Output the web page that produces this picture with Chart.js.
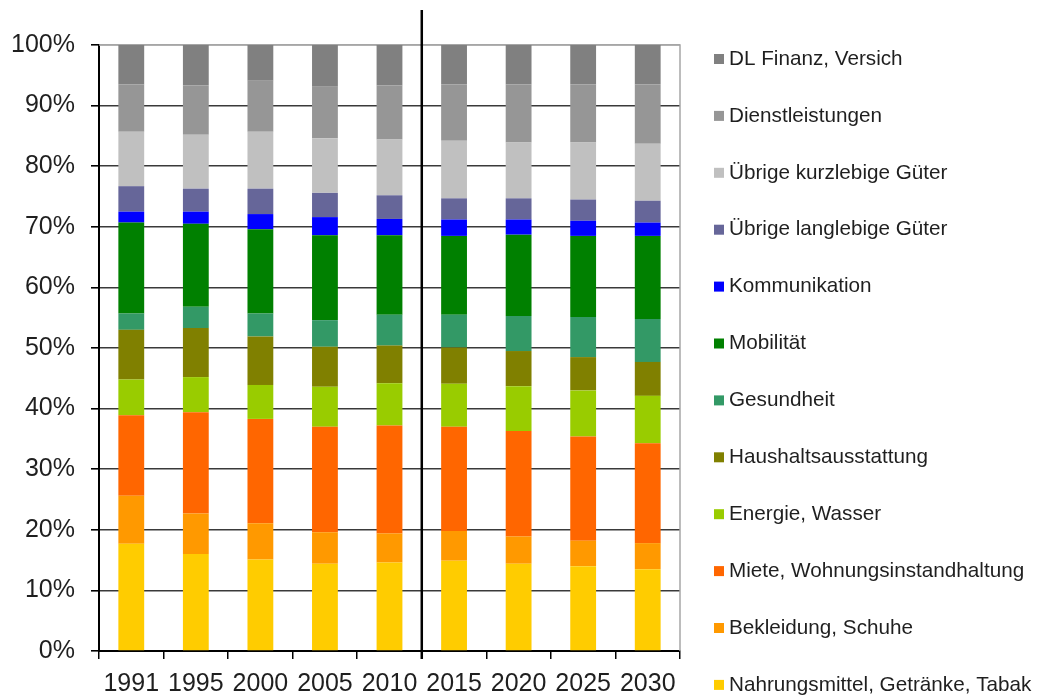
<!DOCTYPE html>
<html>
<head>
<meta charset="utf-8">
<script src="https://cdn.jsdelivr.net/npm/chart.js@4"></script>
<style>
  html, body { margin: 0; padding: 0; background: #ffffff; }
  #wrap { width: 1037px; height: 698px; position: relative; }
</style>
</head>
<body>
<div id="wrap"><canvas id="c"></canvas></div>
<script>
// ---- Data (shares in % of consumption) ----
const years = ['1991', '1995', '2000', '2005', '2010', '2015', '2020', '2025', '2030'];
const yTicks = [0, 10, 20, 30, 40, 50, 60, 70, 80, 90, 100];

const nahrung      = [17.7, 16.0, 15.1, 14.4, 14.6, 14.9, 14.4, 14.0, 13.5];
const bekleidung   = [ 7.9,  6.7,  6.0,  5.2,  4.8,  4.9,  4.5,  4.2,  4.3];
const miete        = [13.3, 16.7, 17.2, 17.4, 17.8, 17.2, 17.4, 17.2, 16.5];
const energie      = [ 5.9,  5.8,  5.6,  6.6,  7.0,  7.1,  7.4,  7.6,  7.8];
const haushalt     = [ 8.2,  8.1,  8.0,  6.6,  6.2,  6.0,  5.8,  5.5,  5.6];
const gesundheit   = [ 2.7,  3.5,  3.8,  4.4,  5.1,  5.4,  5.8,  6.6,  7.1];
const mobilitaet   = [15.0, 13.7, 13.9, 14.0, 13.1, 13.0, 13.4, 13.4, 13.7];
const kommunikation= [ 1.8,  2.0,  2.5,  3.0,  2.7,  2.7,  2.5,  2.5,  2.2];
const langlebig    = [ 4.2,  3.8,  4.2,  4.0,  3.9,  3.5,  3.5,  3.5,  3.6];
const kurzlebig    = [ 9.0,  8.9,  9.4,  9.0,  9.2,  9.5,  9.2,  9.4,  9.4];
const dienst       = [ 7.8,  8.1,  8.4,  8.5,  8.9,  9.3,  9.6,  9.6,  9.8];
const finanz       = [ 6.5,  6.7,  5.9,  6.9,  6.7,  6.5,  6.5,  6.5,  6.5];

const seriesLabels = [
  'Nahrungsmittel, Getränke, Tabak',
  'Bekleidung, Schuhe',
  'Miete, Wohnungsinstandhaltung',
  'Energie, Wasser',
  'Haushaltsausstattung',
  'Gesundheit',
  'Mobilität',
  'Kommunikation',
  'Übrige langlebige Güter',
  'Übrige kurzlebige Güter',
  'Dienstleistungen',
  'DL Finanz, Versich'
];
const seriesValues = [nahrung, bekleidung, miete, energie, haushalt, gesundheit,
  mobilitaet, kommunikation, langlebig, kurzlebig, dienst, finanz];
const seriesColors = ['#FFCC00', '#FF9900', '#FF6600', '#99CC00', '#808000', '#339966',
  '#008000', '#0000FF', '#666699', '#C0C0C0', '#969696', '#808080'];

// ---- Chart ----
Chart.defaults.font.family = '"Liberation Sans", Arial, sans-serif';
Chart.defaults.color = '#1f1f1f';

const datasets = seriesLabels.map((lbl, i) => ({
  label: lbl,
  data: seriesValues[i],
  backgroundColor: seriesColors[i],
  borderWidth: 0,
  categoryPercentage: 1.0,
  barPercentage: 0.4
}));

const decorPlugin = {
  id: 'decor',
  beforeDatasetsDraw(chart) {
    const { ctx, chartArea } = chart;
    ctx.save();
    ctx.strokeStyle = '#a6a6a6';
    ctx.lineWidth = 1.5;
    ctx.beginPath();
    ctx.moveTo(chartArea.left, chartArea.top);
    ctx.lineTo(chartArea.right, chartArea.top);
    ctx.lineTo(chartArea.right, chartArea.bottom);
    ctx.stroke();
    ctx.restore();
  },
  afterDatasetsDraw(chart) {
    const { ctx, chartArea } = chart;
    const xs = chart.scales.x;
    const sepX = (xs.getPixelForValue(4) + xs.getPixelForValue(5)) / 2;
    ctx.save();
    ctx.strokeStyle = '#000000';
    ctx.lineWidth = 2.5;
    ctx.beginPath();
    ctx.moveTo(sepX, 10);
    ctx.lineTo(sepX, chartArea.bottom + 8);
    ctx.stroke();
    ctx.restore();
  },
  afterDraw(chart) {
    const { ctx } = chart;
    const ds = chart.data.datasets;
    ctx.save();
    ctx.font = '20.7px "Liberation Sans", Arial, sans-serif';
    ctx.textBaseline = 'middle';
    ctx.textAlign = 'left';
    const n = ds.length;
    for (let k = 0; k < n; k++) {
      const d = ds[n - 1 - k];
      const cy = 59 + k * 56.9;
      ctx.fillStyle = d.backgroundColor;
      ctx.fillRect(714, cy - 5, 10, 10);
      ctx.fillStyle = '#1f1f1f';
      ctx.fillText(d.label, 729, cy);
    }
    ctx.restore();
  }
};

new Chart(document.getElementById('c'), {
  type: 'bar',
  data: { labels: years, datasets },
  plugins: [decorPlugin],
  options: {
    responsive: true,
    maintainAspectRatio: false,
    animation: false,
    layout: { padding: { left: 11, right: 357, top: 45, bottom: 0 } },
    plugins: {
      legend: { display: false },
      tooltip: { enabled: false },
      title: { display: false }
    },
    scales: {
      x: {
        stacked: true,
        offset: true,
        afterFit: (s) => { s.height = 47; },
        grid: {
          display: true,
          drawOnChartArea: false,
          drawTicks: true,
          tickLength: 8,
          offset: true,
          color: '#000000',
          tickColor: '#000000',
          lineWidth: 1.5
        },
        border: { display: true, color: '#000000', width: 2 },
        ticks: {
          padding: 10,
          font: { size: 25 },
          color: '#1f1f1f',
          maxRotation: 0,
          autoSkip: false
        }
      },
      y: {
        stacked: true,
        min: 0,
        max: 100,
        afterFit: (s) => { s.width = 88; },
        afterBuildTicks: (s) => { s.ticks = yTicks.map(v => ({ value: v })); },
        grid: {
          drawTicks: true,
          tickLength: 8,
          color: (c) => (c.tick && c.tick.value === 100 ? '#a6a6a6' : '#3a3a3a'),
          tickColor: '#000000',
          lineWidth: 1.6
        },
        border: { display: true, color: '#000000', width: 2 },
        ticks: {
          padding: 16,
          font: { size: 25 },
          color: '#1f1f1f',
          callback: (v) => v + '%'
        }
      }
    }
  }
});
</script>
</body>
</html>
